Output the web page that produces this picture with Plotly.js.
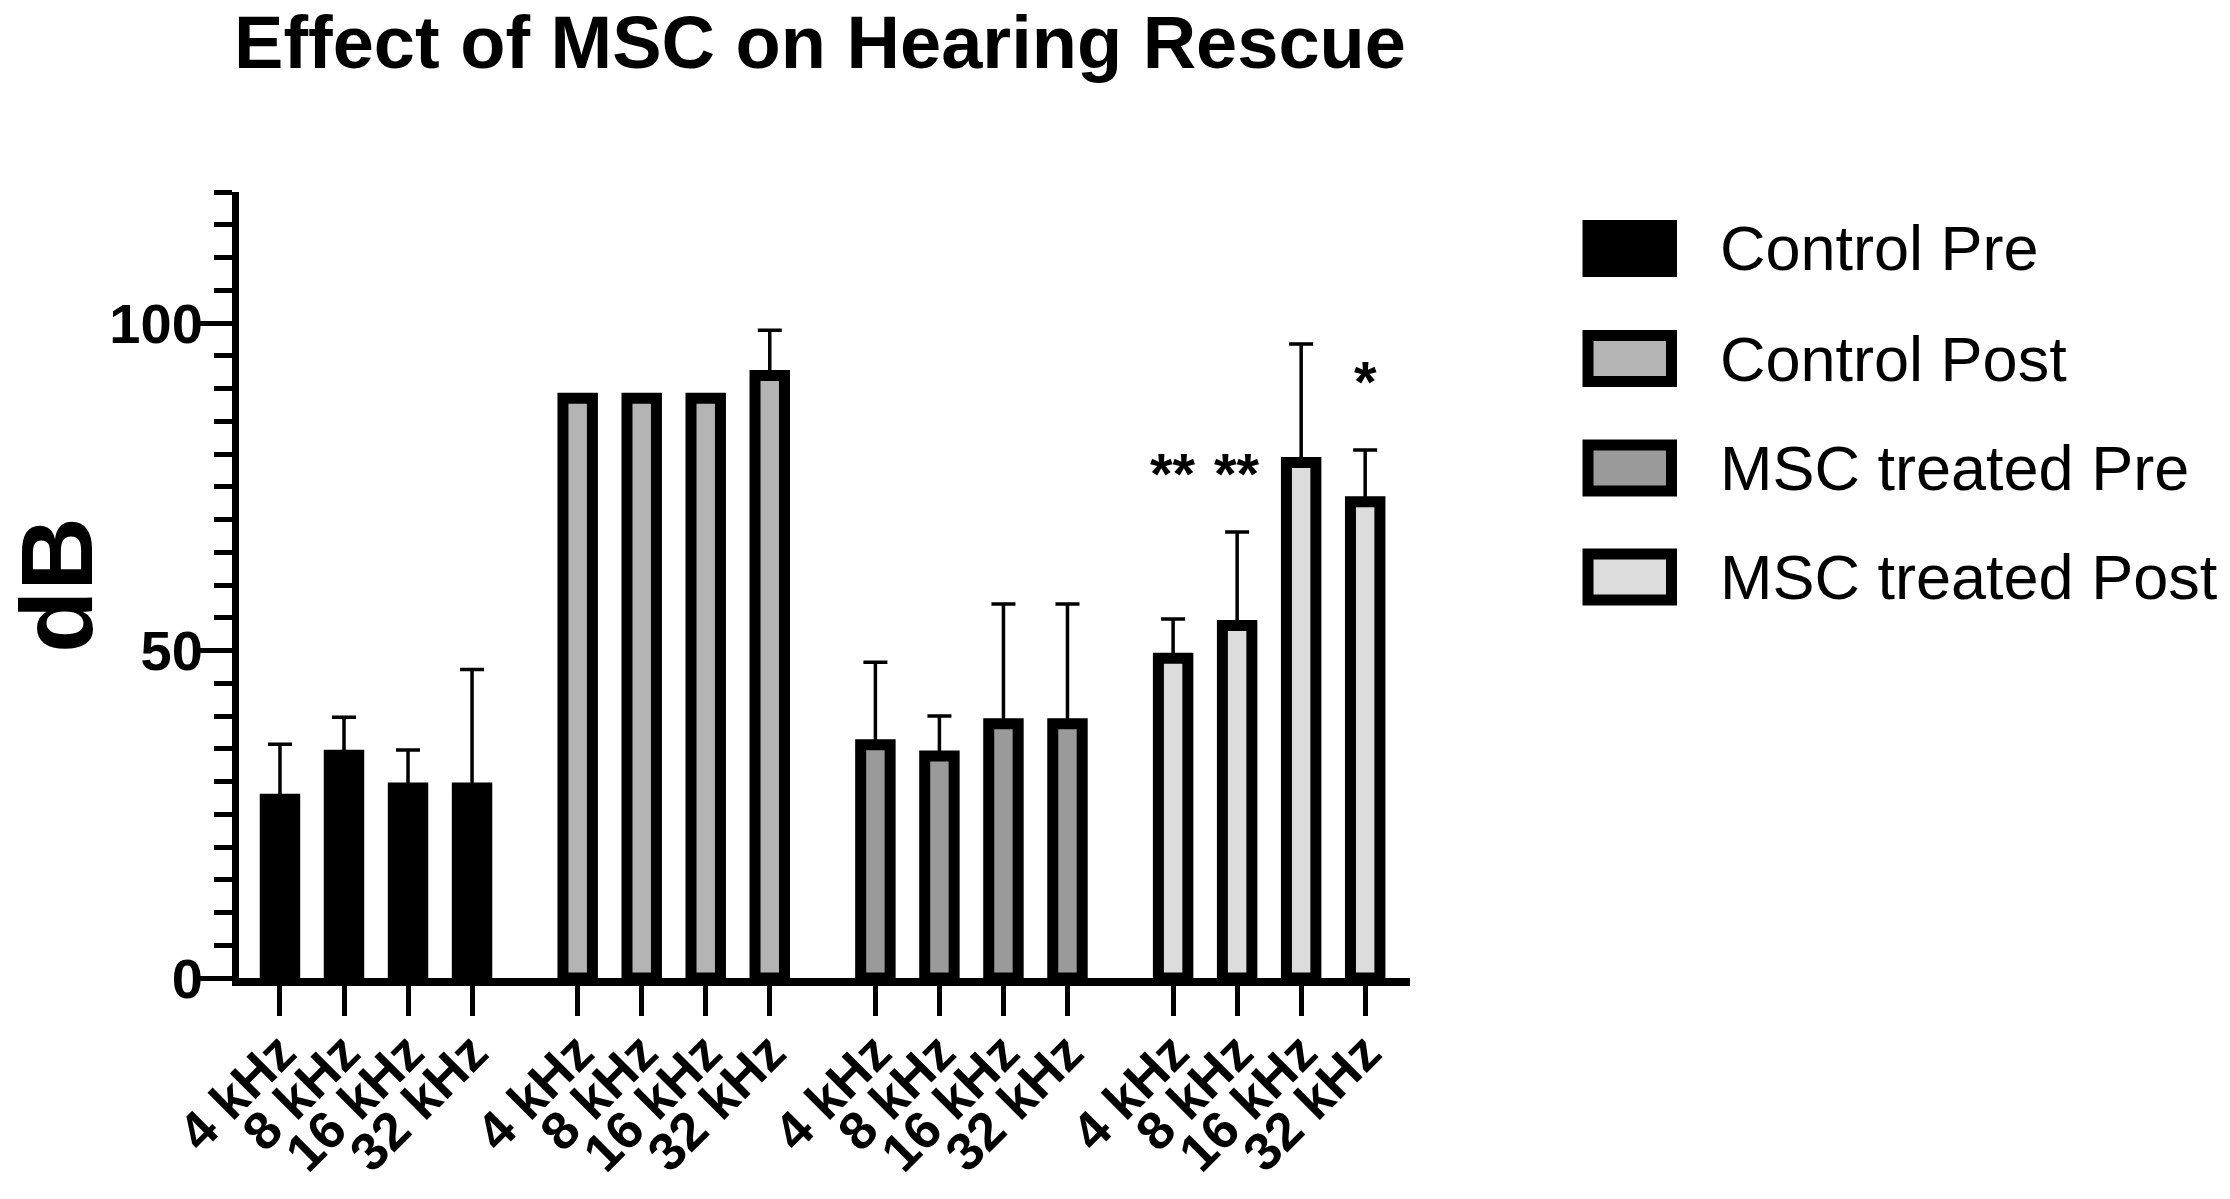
<!DOCTYPE html>
<html>
<head>
<meta charset="utf-8">
<script src="https://cdn.plot.ly/plotly-3.0.1.min.js"></script>
<style>
  html, body { margin: 0; padding: 0; background: #ffffff; }
  #chart { width: 2230px; height: 1199px; }
</style>
</head>
<body>
<div id="chart"></div>
<script>
// series (dB, mean and upper SD)
const groupNames = ['Control Pre', 'Control Post', 'MSC treated Pre', 'MSC treated Post'];
const freqLabels = ['4 kHz', '8 kHz', '16 kHz', '32 kHz'];
const fillColors = ['#000000', '#b4b4b4', '#9a9a9a', '#dcdcdc'];

const controlPre = [27.3, 34.0, 29.0, 29.0];
const controlPreSd = [8.4, 5.8, 5.8, 18.1];
const controlPost = [88.5, 88.5, 88.5, 92.0];
const controlPostSd = [0, 0, 0, 6.9];
const mscPre = [35.6, 33.9, 38.8, 38.8];
const mscPreSd = [12.6, 6.1, 18.3, 18.3];
const mscPost = [48.8, 53.8, 78.7, 72.7];
const mscPostSd = [6.0, 14.3, 18.1, 7.9];

// significance marks over MSC treated Post
const sigText = ['**', '**', '', '*'];
const sigY = [77, 77, null, 91];

const means = [controlPre, controlPost, mscPre, mscPost];
const sds = [controlPreSd, controlPostSd, mscPreSd, mscPostSd];

// layout in pixels
const W = 2230, H = 1199;
const margin = {l: 239, r: 820, t: 192, b: 221};
const plotW = W - margin.l - margin.r;
const plotH = H - margin.t - margin.b;
const groupStep = 4.65;
const font = '"Liberation Sans", Arial, Helvetica, sans-serif';

const px2x = (px) => (px - margin.l) / plotW;
const px2y = (py) => (H - margin.b - py) / plotH;

const xPos = (g) => freqLabels.map((_, i) => g * groupStep + i);

const data = means.map((vals, g) => ({
    type: 'bar',
    name: groupNames[g],
    x: xPos(g),
    y: vals,
    width: 0.46,
    marker: {
        color: fillColors[g],
        line: {color: '#000000', width: 11},
    },
    error_y: {
        type: 'data',
        symmetric: false,
        array: sds[g],
        arrayminus: vals.map(() => 0),
        color: '#000000',
        thickness: 3.5,
        width: 12,
    },
    hoverinfo: 'skip',
    showlegend: false,
}));

const tickvals = [];
const ticktext = [];
groupNames.forEach((_, g) => {
    xPos(g).forEach((x, i) => {
        tickvals.push(x);
        ticktext.push(freqLabels[i]);
    });
});

const annotations = [];
sigText.forEach((t, i) => {
    if (!t) return;
    annotations.push({
        x: xPos(3)[i], y: sigY[i], xref: 'x', yref: 'y',
        text: t, showarrow: false,
        xanchor: 'center', yanchor: 'middle',
        font: {family: font, size: 58, color: '#000000', weight: 'bold'},
    });
});

// legend drawn by hand so the swatches get the figure's size
const shapes = [];
const legendRowsY = [248.5, 358.5, 468, 577];
const swatch = {x0: 1582.5, x1: 1677, h: 57, lw: 11};
groupNames.forEach((name, g) => {
    const cy = legendRowsY[g];
    const inset = g === 0 ? 0 : swatch.lw / 2;
    shapes.push({
        type: 'rect', xref: 'paper', yref: 'paper',
        x0: px2x(swatch.x0 + inset), x1: px2x(swatch.x1 - inset),
        y0: px2y(cy + swatch.h / 2 - inset), y1: px2y(cy - swatch.h / 2 + inset),
        fillcolor: fillColors[g],
        line: {color: '#000000', width: g === 0 ? 0 : swatch.lw},
    });
    annotations.push({
        x: px2x(1718), y: px2y(cy), xref: 'paper', yref: 'paper',
        text: name, showarrow: false,
        xanchor: 'left', yanchor: 'middle',
        font: {family: font, size: 63, color: '#000000'},
    });
});

const layout = {
    width: W,
    height: H,
    margin: margin,
    paper_bgcolor: '#ffffff',
    plot_bgcolor: '#ffffff',
    showlegend: false,
    bargap: 0,
    title: {
        text: 'Effect of MSC on Hearing Rescue',
        x: 820 / W, xref: 'container', xanchor: 'center',
        y: 1 - 16 / H, yref: 'container', yanchor: 'top',
        font: {family: font, size: 74, color: '#000000', weight: 'bold'},
    },
    xaxis: {
        range: [-0.64, 3 * groupStep + 3 + 0.7],
        tickmode: 'array',
        tickvals: tickvals,
        ticktext: ticktext,
        tickangle: -45,
        ticks: 'outside',
        ticklen: 30,
        tickwidth: 5,
        tickcolor: '#000000',
        ticklabelstandoff: -16,
        tickfont: {family: font, size: 53, color: '#000000', weight: 'bold'},
        showline: true,
        linecolor: '#000000',
        linewidth: 8,
        showgrid: false,
        zeroline: false,
        fixedrange: true,
    },
    yaxis: {
        range: [0, 120],
        tickmode: 'array',
        tickvals: [0, 50, 100],
        ticks: 'outside',
        ticklen: 34,
        tickwidth: 5,
        tickcolor: '#000000',
        ticklabelstandoff: -16,
        minor: {dtick: 5, ticks: 'outside', ticklen: 18, tickwidth: 5, tickcolor: '#000000'},
        tickfont: {family: font, size: 56, color: '#000000', weight: 'bold'},
        showline: true,
        linecolor: '#000000',
        linewidth: 7,
        showgrid: false,
        zeroline: false,
        fixedrange: true,
        title: {
            text: 'dB',
            standoff: 35,
            font: {family: font, size: 102, color: '#000000', weight: 'bold'},
        },
    },
    annotations: annotations,
    shapes: shapes,
};

Plotly.newPlot('chart', data, layout, {displayModeBar: false, staticPlot: true});
</script>
</body>
</html>
